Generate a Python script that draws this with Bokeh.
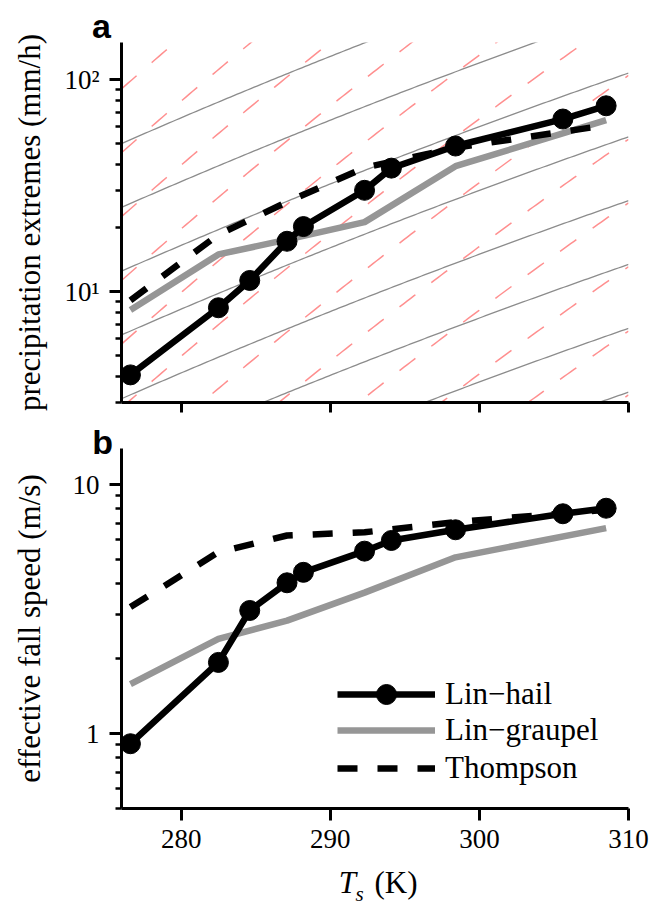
import numpy as np
from bokeh.plotting import figure
from bokeh.models import Range1d, FixedTicker, Label, Legend, LegendItem
from bokeh.layouts import column
from bokeh.embed import file_html
from bokeh.resources import INLINE

# ---------------- data ----------------
ts_hail = [276.6, 282.5, 284.6, 287.1, 288.2, 292.3, 294.1, 298.4, 305.6, 308.5]
precip_hail = [4.05, 8.4, 11.3, 17.3, 20.3, 30.1, 38.3, 48.7, 65.3, 75.4]
speed_hail = [0.91, 1.93, 3.12, 4.03, 4.44, 5.40, 5.96, 6.58, 7.63, 8.03]

ts_other = [276.6, 282.5, 287.1, 292.3, 298.4, 308.5]
precip_graupel = [8.2, 15.0, 17.6, 21.3, 39.1, 64.5]
precip_thompson = [9.1, 18.6, 26.5, 38.5, 47.8, 61.0]
speed_graupel = [1.58, 2.40, 2.84, 3.68, 5.10, 6.68]
speed_thompson = [3.22, 5.35, 6.24, 6.43, 7.06, 7.91]

series_names = ["Lin\u2212hail", "Lin\u2212graupel", "Thompson"]

x_ticks = [280, 290, 300, 310]
x_tick_labels = ["280", "290", "300", "310"]
precip_ticks = [10, 100]
precip_tick_labels = ["10\u00b9", "10\u00b2"]
precip_minor = [3, 4, 5, 6, 7, 8, 9, 20, 30, 40, 50, 60, 70, 80, 90]
speed_ticks = [1, 10]
speed_tick_labels = ["1", "10"]
speed_minor = [0.5, 0.6, 0.7, 0.8, 0.9, 2, 3, 4, 5, 6, 7, 8, 9]

# Clausius-Clapeyron guide lines (values at guide_T0, doubling spacing)
guide_T0 = 276.0
cc_anchor = [0.39, 0.78, 1.5625, 3.125, 6.25, 12.5, 25.0, 50.0]
cc2_anchor = [0.044, 0.088, 0.177, 0.354, 0.707, 1.415, 2.83, 5.66, 11.3, 22.6, 45.3, 90.6]
L_over_Rv = 2.5e6 / 461.5

X_RANGE = (276.0, 310.0)
PRECIP_RANGE = (3.0, 150.0)
SPEED_RANGE = (0.5, 13.95)

# ---------------- layout geometry (screen px) ----------------
W = 650
FRAME_L, FRAME_R = 119, 628
PA_H, PA_TOP, PA_BOT = 413, 42, 402
PB_H, PB_TOP_ABS, PB_BOT_ABS = 494, 448, 808

SERIF = "Liberation Serif"
BLACK = "#000000"
GREY = "#969696"
LABEL_SIZE = "31px"
TICK_SIZE = "27px"


def px_to_x(px):
    return X_RANGE[0] + (px - FRAME_L) * (X_RANGE[1] - X_RANGE[0]) / (FRAME_R - FRAME_L)


def py_to_y(py, top, bot, yr):
    lo, hi = np.log10(yr[0]), np.log10(yr[1])
    return float(10 ** (lo + (bot - py) * (hi - lo) / (bot - top)))


def style_axes(p, ylabel, ylabel_standoff):
    for ax in (p.xaxis[0], p.yaxis[0]):
        ax.axis_line_width = 3
        ax.axis_line_color = BLACK
        ax.major_tick_line_width = 3
        ax.minor_tick_line_width = 2.5
        ax.major_tick_in = 0
        ax.major_tick_out = 12
        ax.minor_tick_in = 0
        ax.minor_tick_out = 6
        ax.major_label_text_font = SERIF
        ax.major_label_text_font_size = TICK_SIZE
        ax.major_label_text_color = BLACK
        ax.major_label_standoff = 10
    p.xaxis.major_label_standoff = 9
    p.yaxis.axis_label = ylabel
    p.yaxis.axis_label_text_font = SERIF
    p.yaxis.axis_label_text_font_size = LABEL_SIZE
    p.yaxis.axis_label_text_font_style = "normal"
    p.yaxis.axis_label_text_color = BLACK
    p.yaxis.axis_label_standoff = ylabel_standoff
    p.xaxis.ticker = FixedTicker(ticks=x_ticks, minor_ticks=[])
    p.xaxis.major_label_overrides = dict(zip(x_ticks, x_tick_labels))
    p.outline_line_color = None
    p.grid.visible = False
    p.background_fill_color = "white"
    p.border_fill_color = "white"


def text_label(text, px, py_center, top, bot, yr, size, style="normal", font=SERIF, align="left"):
    return Label(x=px_to_x(px), y=py_to_y(py_center, top, bot, yr), x_units="data", y_units="data",
                 text=text, text_font=font, text_font_style=style, text_font_size=size,
                 text_align=align, text_baseline="middle", text_color=BLACK)


# ---------------- panel a ----------------
pa = figure(width=W, height=PA_H, x_range=Range1d(*X_RANGE), y_range=Range1d(*PRECIP_RANGE),
            y_axis_type="log", output_backend="svg", toolbar_location=None,
            min_border_left=FRAME_L, min_border_right=W - FRAME_R,
            min_border_top=PA_TOP, min_border_bottom=PA_H - PA_BOT)
style_axes(pa, "precipitation extremes (mm/h)", 14)
pa.yaxis.ticker = FixedTicker(ticks=precip_ticks, minor_ticks=precip_minor)
pa.yaxis.major_label_overrides = dict(zip(precip_ticks, precip_tick_labels))
pa.xaxis.major_label_overrides = {t: "" for t in x_ticks}
pa.xaxis.major_label_text_font_size = "0px"
pa.xaxis.major_label_standoff = 0
pa.xaxis.major_tick_out = 10

tt = np.linspace(X_RANGE[0], X_RANGE[1], 150)
cc_fac = np.exp(L_over_Rv * (1.0 / guide_T0 - 1.0 / tt))
pa.multi_line([list(tt)] * len(cc_anchor), [list(a * cc_fac) for a in cc_anchor],
              line_color="#8c8c8c", line_width=1.3)
pa.multi_line([list(tt)] * len(cc2_anchor), [list(a * cc_fac ** 2) for a in cc2_anchor],
              line_color="#ff8f8f", line_width=1.5, line_dash="20 20")

pa.line(ts_other, precip_graupel, line_color=GREY, line_width=6.5, line_join="round")
pa.line(ts_other, precip_thompson, line_color=BLACK, line_width=6.5, line_dash="20 20")
pa.line(ts_hail, precip_hail, line_color=BLACK, line_width=6.5, line_join="round")
pa.scatter(ts_hail, precip_hail, size=20, color=BLACK)

# panel letter (in the side panel above, so it is not clipped to the frame)
pa.add_layout(text_label("a", 99, 25, PA_TOP, PA_BOT, PRECIP_RANGE, "34px", "bold",
                         "Liberation Sans", "center"), "above")

# ---------------- panel b ----------------
pb = figure(width=W, height=PB_H, x_range=Range1d(*X_RANGE), y_range=Range1d(*SPEED_RANGE),
            y_axis_type="log", output_backend="svg", toolbar_location=None,
            min_border_left=FRAME_L, min_border_right=W - FRAME_R,
            min_border_top=PB_TOP_ABS - PA_H, min_border_bottom=PA_H + PB_H - PB_BOT_ABS)
style_axes(pb, "effective fall speed (m/s)", 23)
pb.yaxis.ticker = FixedTicker(ticks=speed_ticks, minor_ticks=speed_minor)
pb.yaxis.major_label_overrides = dict(zip(speed_ticks, speed_tick_labels))

g_line = pb.line(ts_other, speed_graupel, line_color=GREY, line_width=6.5, line_join="round")
t_line = pb.line(ts_other, speed_thompson, line_color=BLACK, line_width=6.5, line_dash="20 20")
h_line = pb.line(ts_hail, speed_hail, line_color=BLACK, line_width=6.5, line_join="round")
h_pts = pb.scatter(ts_hail, speed_hail, size=20, color=BLACK)

# one legend per entry so that rows can sit 37 px apart while the marker stays large
legend_rows = [([h_line, h_pts], 50, 89), ([g_line], 36, 60), ([t_line], 36, 22)]
for name, (rends, gh, ly) in zip(series_names, legend_rows):
    lg = Legend(items=[LegendItem(label=name, renderers=rends)],
                location=(216, ly), glyph_width=98, glyph_height=gh, spacing=0,
                padding=0, margin=0, label_standoff=10, border_line_color=None,
                background_fill_alpha=0, label_text_font=SERIF, label_text_font_size=LABEL_SIZE,
                label_text_color=BLACK, label_height=20)
    pb.add_layout(lg)

# texts outside the frame, each in a side panel with room for it
PB_TOP, PB_BOT = PB_TOP_ABS - PA_H, PB_BOT_ABS - PA_H   # in pb canvas coordinates
pb.add_layout(text_label("b", 100, 441 - PA_H, PB_TOP, PB_BOT, SPEED_RANGE, "34px", "bold",
                         "Liberation Sans", "center"), "below")
pb.add_layout(text_label("T", 337, 881.5 - PA_H, PB_TOP, PB_BOT, SPEED_RANGE, LABEL_SIZE, "italic"),
              "right")
pb.add_layout(text_label("s", 354, 893 - PA_H, PB_TOP, PB_BOT, SPEED_RANGE, "21px", "italic"),
              "left")
pb.add_layout(text_label("(K)", 373, 881.5 - PA_H, PB_TOP, PB_BOT, SPEED_RANGE, LABEL_SIZE),
              "above")

layout = column(pa, pb, spacing=0)
open("out.html", "w").write(file_html(layout, INLINE))
